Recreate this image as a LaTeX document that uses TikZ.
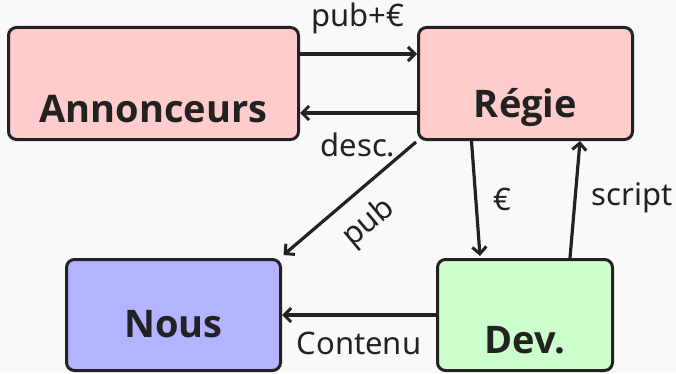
\documentclass[tikz,border=0pt]{standalone}
\usepackage{fontspec}
\setmainfont{Noto Sans}
\newfontfamily\boxfont{Open Sans}
\usetikzlibrary{arrows.meta}
\definecolor{bg}{HTML}{F9F9F9}
\definecolor{ink}{HTML}{222222}
\definecolor{pinkf}{HTML}{FFCCCC}
\definecolor{bluef}{HTML}{B3B3FF}
\definecolor{greenf}{HTML}{CCFFCC}
\tikzset{
  box/.style={draw=ink, line width=3pt, rounded corners=8pt, inner sep=0pt,
    text=ink, font=\boxfont\fontsize{38}{44}\selectfont\bfseries},
  conn/.style={draw=ink, line width=3.2pt, -{Straight Barb[length=7pt,width=14pt,line width=3pt]}},
  lbl/.style={text=ink, inner sep=0pt, font=\fontsize{31}{36}\selectfont}
}
\begin{document}
\begin{tikzpicture}[x=1pt,y=1pt]
\fill[bg] (0,0) rectangle (676,373);
\useasboundingbox (0,0) rectangle (676,373);
\node[box, fill=pinkf, minimum width=290pt, minimum height=112pt, text height=94.5pt, text depth=17.5pt] (ann) at (153.5,289.5) {Annonceurs};
\node[box, fill=pinkf, minimum width=214pt, minimum height=112pt, text height=89.5pt, text depth=22.5pt] (reg) at (525.5,289.5) {Régie};
\node[box, fill=bluef, minimum width=214pt, minimum height=111pt, text height=77.5pt, text depth=33.5pt] (nous) at (173.5,58) {Nous};
\node[box, fill=greenf, minimum width=175pt, minimum height=111pt, text height=93.5pt, text depth=17.5pt] (dev) at (525,58) {Dev.};
% pub+euro
\draw[conn] ([yshift=29.5pt]ann.east) -- ([yshift=29.5pt]reg.west);
\node[lbl] (l1) at (358,355) {pub+€};
% desc.
\draw[conn] ([yshift=-29.5pt]reg.west) -- ([yshift=-29.5pt]ann.east);
\node[lbl] (l2) at (358,228) {desc.};
% pub
\draw[conn] ([xshift=-1pt,yshift=-1pt]reg.south west) -- ([xshift=1.5pt,yshift=3pt]nous.north east);
\node[lbl, rotate=40] (l3) at (369,150) {pub};
% euro
\draw[conn] ([xshift=-54pt]reg.south) -- ([xshift=-45pt,yshift=2pt]dev.north);
\node[lbl] (l4) at (502,174) {€};
% script
\draw[conn] ([xshift=45pt]dev.north) -- ([xshift=54.5pt]reg.south);
\node[lbl] (l5) at (632,175) {script};
% Contenu
\draw[conn] (dev.west) -- (nous.east);
\node[lbl] (l6) at (359,30) {Contenu};
\end{tikzpicture}
\end{document}
